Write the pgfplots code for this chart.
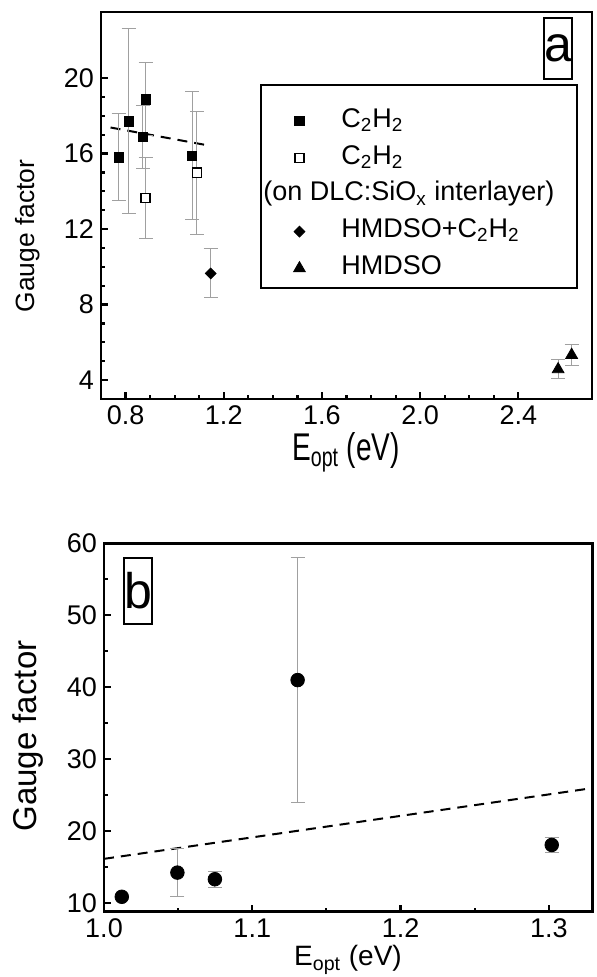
\documentclass[border=0pt]{standalone}
\usepackage{fontspec}
\setmainfont{Liberation Sans}
\usepackage{pgfplots}
\pgfplotsset{compat=1.18}
\definecolor{errgray}{HTML}{A0A0A0}

\pgfplotsset{
  gf/.style={
    scale only axis,
    axis line style={line width=1.3pt},
    every tick/.style={black, line width=1.1pt},
    major tick length=3.5pt, minor tick length=2pt,
    tick align=inside,
    xtick pos=lower, ytick pos=left,
    tick label style={font=\fontsize{13.5}{16}\selectfont},
    /pgf/number format/assume math mode=true,
  },
  eb/.style={
    error bars/.cd, y dir=both, y explicit,
    error bar style={errgray, line width=0.5pt},
    error mark options={errgray, line width=0.5pt, mark size=3.5pt, rotate=90},
  },
}

\begin{document}
\begin{tikzpicture}
\path[use as bounding box] (0,0) rectangle (298.5pt,488.5pt);

% ---- panel a ----
\begin{axis}[gf,
  at={(50.5pt,289pt)}, anchor=south west,
  width=245.5pt, height=193.5pt,
  xmin=0.7, xmax=2.7, ymin=3, ymax=23.5,
  xtick={0.8,1.2,...,2.5}, minor x tick num=3,
  ytick={4,8,...,20}, minor y tick num=3,
  xticklabel style={/pgf/number format/.cd, fixed, fixed zerofill, precision=1},
  legend style={draw=none, fill=none, at={(axis description cs:0.3686,0.755)}, anchor=north west,
    legend cell align=left,
    row sep=4.4pt, column sep=18pt, inner sep=0pt,
    nodes={inner sep=0pt, text height=10pt, text depth=4pt, font=\fontsize{13.5}{16}\selectfont}},
]
\addplot[black, line width=1pt, dash pattern=on 5pt off 3.5pt, forget plot]
  coordinates {(0.739,17.38) (1.125,16.46)};
\addplot[forget plot, only marks, mark=square*, mark size=2.3pt, black, eb]
  coordinates {
  (0.772,15.80) +- (0,2.30)
  (0.813,17.70) +- (0,4.90)
  (0.871,16.90) +- (0,1.67)
  (0.882,18.87) +- (0,1.93)
  (1.071,15.89) +- (0,3.40)
  };
\addplot[forget plot, only marks, mark=square*, mark size=2.3pt, mark options={fill=white, draw=black, line width=0.8pt}, eb]
  coordinates {
  (0.882,13.65) +- (0,2.15)
  (1.091,14.98) +- (0,3.25)
  };
\addplot[forget plot, only marks, mark=square*, mark size=1.9pt, mark options={rotate=45}, black, eb]
  coordinates {(1.147,9.65) +- (0,1.3)};
\addplot[forget plot, only marks, mark=triangle*, mark size=3.4pt, black, eb]
  coordinates {
  (2.562,4.57) +- (0,0.50)
  (2.617,5.33) +- (0,0.55)
  };
\addlegendimage{only marks, mark=square*, mark size=2.3pt, black}
\addlegendentry{C\textsubscript{2}H\textsubscript{2}}
\addlegendimage{only marks, mark=square*, mark size=2.3pt, mark options={fill=white, draw=black, line width=0.8pt}}
\addlegendentry{C\textsubscript{2}H\textsubscript{2}}
\addlegendimage{empty legend}
\addlegendentry{\hspace*{-39pt}(on DLC:SiO\textsubscript{x} interlayer)}
\addlegendimage{only marks, mark=square*, mark size=1.9pt, mark options={rotate=45}, black}
\addlegendentry{HMDSO+C\textsubscript{2}H\textsubscript{2}}
\addlegendimage{only marks, mark=triangle*, mark size=3.4pt, black}
\addlegendentry{HMDSO}
\end{axis}

\draw[line width=0.6pt] (130.5pt,344.5pt) rectangle (288.5pt,446pt);
\node[draw, line width=0.6pt, inner sep=0pt, minimum width=14pt, minimum height=30.5pt,
  font=\fontsize{25}{30}\selectfont] at (279pt,464.25pt) {a};
\node[rotate=90, font=\fontsize{13.2}{16}\selectfont] at (13.75pt,370.5pt) {Gauge factor};
\node[anchor=base, inner sep=0pt, font=\fontsize{14}{17}\selectfont] at (173pt,258pt)
  {\scalebox{1}[1.38]{E\textsubscript{opt} (eV)}};

% ---- panel b ----
\begin{axis}[gf,
  at={(52pt,32.65pt)}, anchor=south west,
  width=244.25pt, height=184.2pt,
  xmin=1.0, xmax=1.3295, ymin=8.83, ymax=60,
  xtick={1.0,1.1,1.2,1.3}, minor x tick num=1,
  ytick={10,20,...,60}, minor y tick num=1,
  xticklabel style={/pgf/number format/.cd, fixed, fixed zerofill, precision=1},
]
\addplot[black, line width=1pt, dash pattern=on 5pt off 3.5pt]
  coordinates {(1.0,16.17) (1.3295,26.0)};
\addplot[only marks, mark=*, mark size=3.4pt, black]
  coordinates {(1.012,10.9)};
\addplot[only marks, mark=*, mark size=3.4pt, black, eb]
  coordinates {
  (1.0495,14.26) +- (0,3.35)
  (1.0748,13.34) +- (0,1.10)
  (1.1306,41.00) +- (0,17.0)
  (1.3020,18.10) +- (0,1.00)
  };
\end{axis}

\node[draw, line width=0.6pt, inner sep=0pt, minimum width=14pt, minimum height=33pt,
  font=\fontsize{25}{30}\selectfont] at (69pt,193pt) {b};
\node[rotate=90, font=\fontsize{16.5}{20}\selectfont] at (14pt,120.5pt) {Gauge factor};
\node[anchor=base, inner sep=0pt, font=\fontsize{14}{17}\selectfont] at (174pt,5.5pt) {E\textsubscript{opt} (eV)};
\end{tikzpicture}
\end{document}
